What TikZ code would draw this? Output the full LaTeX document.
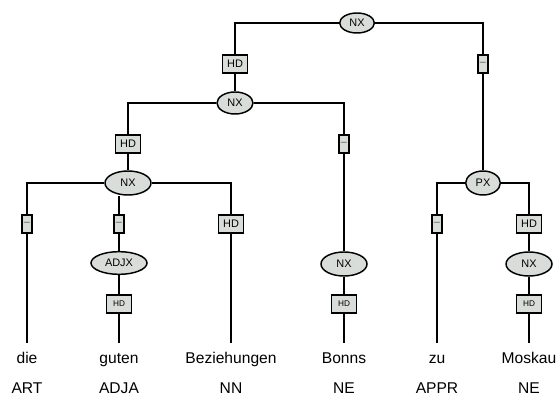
\documentclass[tikz,border=0pt]{standalone}
\usepackage{fontspec}
\setmainfont{Liberation Sans}
\usetikzlibrary{shapes.geometric}
\definecolor{labelgray}{RGB}{217,221,217}
\tikzset{
  cat/.style={ellipse, draw, line width=1.1pt, fill=labelgray, inner sep=0pt,
    minimum width=34.5pt, minimum height=18pt, font=\fontsize{8.2}{9}\selectfont},
  edgelab/.style={rectangle, draw, line width=1.1pt, fill=labelgray, inner sep=0pt,
    minimum width=18.5pt, minimum height=13.5pt, font=\fontsize{8.2}{9}\selectfont},
  dashlab/.style={edgelab, minimum width=7.5pt, text=black!65},
  smallhd/.style={edgelab, font=\fontsize{6.2}{7}\selectfont},
  word/.style={anchor=base, inner ysep=6.2pt, text height=8.8pt, text depth=0pt,
    font=\fontsize{11.7}{14}\selectfont},
  tag/.style={anchor=base, font=\fontsize{11.7}{14}\selectfont},
  branch/.style={line width=0.9pt}
}
\begin{document}
\begin{tikzpicture}[x=0.75pt, y=-0.75pt]
\useasboundingbox (0,0) rectangle (560,399);

% Kategorien und Kanten
\node[cat, minimum width=26pt, minimum height=15pt] (nxtop) at (357,23) {NX};
\node[edgelab] (hdA) at (235,64) {HD};
\node[cat, minimum width=27pt, minimum height=16.5pt] (nxB) at (235,103) {NX};
\node[edgelab] (hdB) at (128,144) {HD};
\node[cat] (nxC) at (128,183) {NX};
\node[dashlab] (dashC1) at (27,224) {–};
\node[dashlab] (dashC2) at (119,224) {–};
\node[edgelab] (hdC) at (231,224) {HD};
\node[cat, minimum width=42pt, minimum height=17pt] (adjx) at (119,263) {ADJX};
\node[smallhd] (hdAdj) at (119,304) {HD};
\node[dashlab] (dashB) at (344,144) {–};
\node[cat] (nxD) at (344,264) {NX};
\node[smallhd] (hdD) at (344,304) {HD};
\node[dashlab] (dashtop) at (483,64) {–};
\node[cat, minimum width=26pt] (px) at (483,183) {PX};
\node[dashlab] (dashP) at (437,224) {–};
\node[edgelab] (hdP) at (529,224) {HD};
\node[cat] (nxE) at (529,264) {NX};
\node[smallhd] (hdE) at (529,304) {HD};

% Woerter
\node[word] (die) at (27,363) {die};
\node[word] (guten) at (119,363) {guten};
\node[word] (bez) at (231,363) {Beziehungen};
\node[word] (bonns) at (344,363) {Bonns};
\node[word] (zu) at (437,363) {zu};
\node[word] (moskau) at (529,363) {Moskau};

% Wortarten
\node[tag] (tART) at (27,393) {ART};
\node[tag] (tADJA) at (119,393) {ADJA};
\node[tag] (tNN) at (231,393) {NN};
\node[tag] (tNEa) at (344,393) {NE};
\node[tag] (tAPPR) at (437,393) {APPR};
\node[tag] (tNEb) at (529,393) {NE};

% Verbindungen
\draw[branch] (nxtop.west) -| (hdA.north);
\draw[branch] (nxtop.east) -| (dashtop.north);
\draw[branch] (hdA) -- (nxB);
\draw[branch] (nxB.west) -| (hdB.north);
\draw[branch] (nxB.east) -| (dashB.north);
\draw[branch] (hdB) -- (nxC);
\draw[branch] (nxC.west) -| (dashC1.north);
\draw[branch] (dashC2.north) -- (dashC2.north |- nxC.south);
\draw[branch] (nxC.east) -| (hdC.north);
\draw[branch] (dashC1) -- (die.north);
\draw[branch] (dashC2) -- (adjx);
\draw[branch] (adjx) -- (hdAdj);
\draw[branch] (hdAdj) -- (guten.north);
\draw[branch] (hdC) -- (bez.north);
\draw[branch] (dashB) -- (nxD);
\draw[branch] (nxD) -- (hdD);
\draw[branch] (hdD) -- (bonns.north);
\draw[branch] (dashtop) -- (px);
\draw[branch] (px.west) -| (dashP.north);
\draw[branch] (px.east) -| (hdP.north);
\draw[branch] (dashP) -- (zu.north);
\draw[branch] (hdP) -- (nxE);
\draw[branch] (nxE) -- (hdE);
\draw[branch] (hdE) -- (moskau.north);
\end{tikzpicture}
\end{document}
